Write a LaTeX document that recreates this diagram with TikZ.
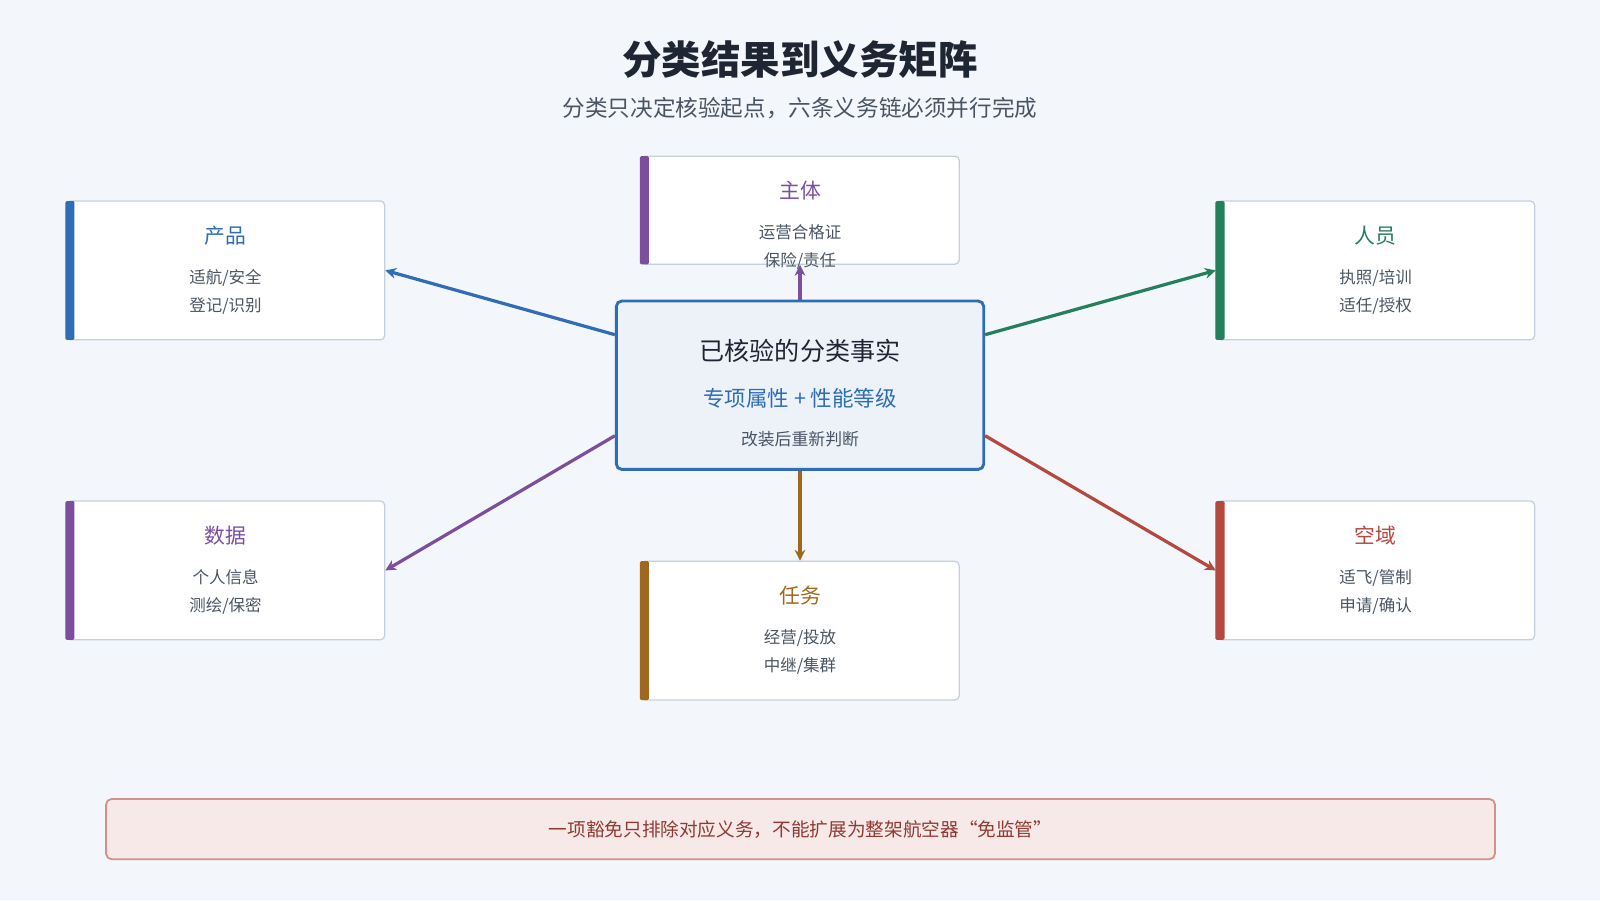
\documentclass[tikz,border=0pt]{standalone}
\usepackage{fontspec}
\setmainfont{Noto Sans CJK SC}
\usetikzlibrary{calc,arrows.meta}
\definecolor{bg}{HTML}{F3F6FA}
\definecolor{cb}{HTML}{2F6DB5}
\definecolor{cp}{HTML}{7B4F9E}
\definecolor{cg}{HTML}{23805A}
\definecolor{cr}{HTML}{B5483F}
\definecolor{cn}{HTML}{A0681E}
\definecolor{bd}{HTML}{C5D0DE}
\definecolor{tx}{HTML}{4A5563}
\definecolor{tt}{HTML}{1E2633}
\tikzset{
 box/.style={draw=bd,line width=0.35pt,fill=white,rounded corners=1.2pt,minimum width=3.12cm,minimum height=1.36cm,inner sep=0pt},
 arr/.style={line width=0.9pt,-{Stealth[length=3pt,width=3pt]}},
 hd/.style={font=\fontsize{5.8}{7}\selectfont},
 bdy/.style={text=tx,font=\fontsize{4.6}{7.9}\selectfont,align=center},
}
\begin{document}
\begin{tikzpicture}[x=1cm,y=1cm]
\fill[bg] (0,0) rectangle (15.68,8.82);
\useasboundingbox (0,0) rectangle (15.68,8.82);
\node[text=tt,font=\fontsize{11}{13}\selectfont\bfseries] (title) at (7.84,8.24) {分类结果到义务矩阵};
\node[text=tx,font=\fontsize{6.3}{8}\selectfont] (sub) at (7.84,7.76) {分类只决定核验起点，六条义务链必须并行完成};
% boxes
\node[box,minimum height=1.06cm] (zt) at (7.84,6.76) {};
\fill[cp,rounded corners=0.4pt] (6.27,7.29) rectangle (6.36,6.23);
\node[hd,text=cp] at (7.84,6.95) {主体};
\node[bdy] at (7.84,6.40) {运营合格证\\保险/责任};
\node[box] (pr) at (2.21,6.17) {};
\fill[cb,rounded corners=0.4pt] (0.64,6.85) rectangle (0.73,5.49);
\node[hd,text=cb] at (2.21,6.51) {产品};
\node[bdy] at (2.21,5.96) {适航/安全\\登记/识别};
\node[box] (ry) at (13.48,6.17) {};
\fill[cg,rounded corners=0.4pt] (11.91,6.85) rectangle (12.00,5.49);
\node[hd,text=cg] at (13.48,6.51) {人员};
\node[bdy] at (13.48,5.96) {执照/培训\\适任/授权};
\node[box] (sj) at (2.21,3.23) {};
\fill[cp,rounded corners=0.4pt] (0.64,3.91) rectangle (0.73,2.55);
\node[hd,text=cp] at (2.21,3.57) {数据};
\node[bdy] at (2.21,3.02) {个人信息\\测绘/保密};
\node[box] (ky) at (13.48,3.23) {};
\fill[cr,rounded corners=0.4pt] (11.91,3.91) rectangle (12.00,2.55);
\node[hd,text=cr] at (13.48,3.57) {空域};
\node[bdy] at (13.48,3.02) {适飞/管制\\申请/确认};
\node[box] (rw) at (7.84,2.64) {};
\fill[cn,rounded corners=0.4pt] (6.27,3.32) rectangle (6.36,1.96);
\node[hd,text=cn] at (7.84,2.98) {任务};
\node[bdy] at (7.84,2.43) {经营/投放\\中继/集群};
% center
\node[draw=cb,line width=0.8pt,fill=cb!9,rounded corners=1.5pt,minimum width=3.6cm,minimum height=1.65cm,inner sep=0pt] (c) at (7.84,5.045) {};
\node[text=tt,font=\fontsize{7}{8}\selectfont] at (7.84,5.38) {已核验的分类事实};
\node[text=cb,font=\fontsize{6}{8}\selectfont] at (7.84,4.92) {专项属性 + 性能等级};
\node[text=tx,font=\fontsize{4.7}{6}\selectfont] at (7.84,4.52) {改装后重新判断};
% arrows
\draw[arr,cb] ($(c.west)+(0,0.495)$) -- (pr.east);
\draw[arr,cg] ($(c.east)+(0,0.495)$) -- (ry.west);
\draw[arr,cp] ($(c.west)+(0,-0.495)$) -- (sj.east);
\draw[arr,cr] ($(c.east)+(0,-0.495)$) -- (ky.west);
\draw[arr,cp] (c.north) -- (zt.south);
\draw[arr,cn] (c.south) -- (rw.north);
% bottom
\node[draw=cr!60,line width=0.5pt,fill=cr!12,rounded corners=1.5pt,minimum width=13.61cm,minimum height=0.59cm,text=cr!80!black,font=\fontsize{5.2}{6}\selectfont] (bt) at (7.845,0.695) {一项豁免只排除对应义务，不能扩展为整架航空器“免监管”};
\end{tikzpicture}
\end{document}
